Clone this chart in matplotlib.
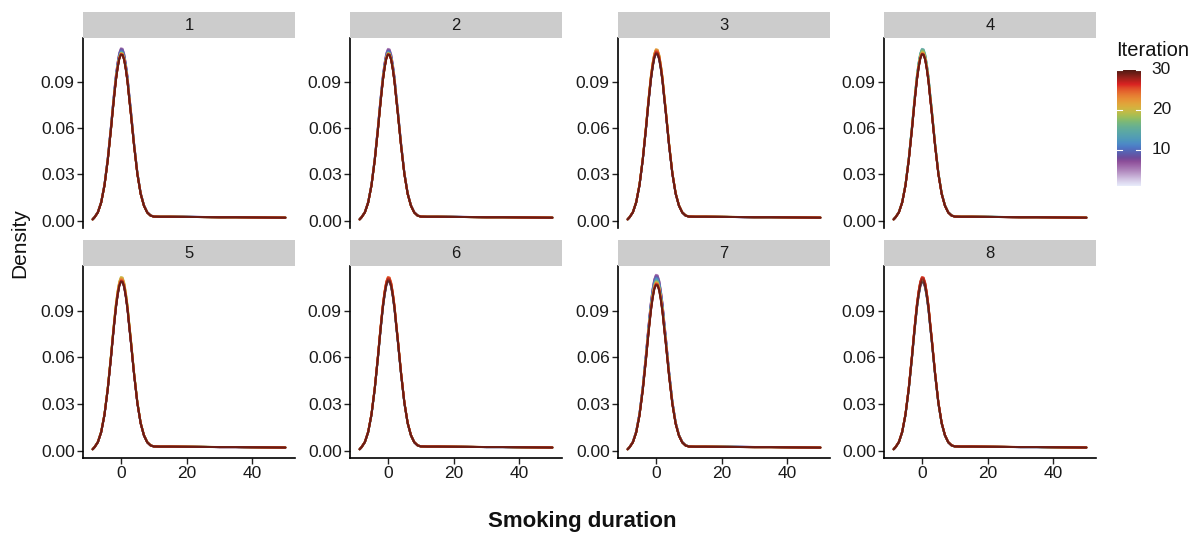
import numpy as np
import matplotlib
matplotlib.use("Agg")
import matplotlib.pyplot as plt
from matplotlib.colors import LinearSegmentedColormap

plt.rcParams["font.family"] = ["Liberation Sans", "DejaVu Sans"]

# density curve shape (x = smoking duration, y = density)
dens_x = [-8.6, -8, -7, -6, -5, -4, -3, -2.5, -2, -1.5, -1, -0.5, 0, 0.5, 1,
          1.5, 2, 2.5, 3, 4, 5, 6, 7, 8, 9, 10, 12, 15, 20, 25, 30, 35, 40,
          45, 50]
dens_y = [0.0008, 0.0022, 0.0054, 0.0118, 0.0229, 0.0395, 0.0603, 0.0717,
          0.0824, 0.0923, 0.1001, 0.1060, 0.1088, 0.1085, 0.1052, 0.0989,
          0.0910, 0.0804, 0.0704, 0.0490, 0.0305, 0.0175, 0.0097, 0.0053,
          0.0033, 0.0026, 0.0025, 0.0025, 0.0024, 0.0023, 0.0022, 0.0022,
          0.0021, 0.0020, 0.0019]
base_peak = 0.1088

panels = [1, 2, 3, 4, 5, 6, 7, 8]
iterations = list(range(1, 31))

# peak offset of each iteration's curve (units of 1e-4), per panel
peak_offset = {
    1: [10, 14, 18, 22, 26, 30, 34, 30, 24, 18, 14, 10, 8, 6, 6, 4, 4, 2, 2, 0, 0, -2, -2, -4, -4, -6, -6, -8, -8, -8],
    2: [12, 16, 20, 24, 28, 30, 26, 22, 18, 14, 10, 8, 6, 4, 4, 2, 2, 0, 0, 0, -2, -2, -4, -4, -4, -6, -6, -6, -8, -8],
    3: [-6, -4, -2, 0, 2, 0, -2, 0, 2, 4, 6, 8, 10, 12, 14, 16, 18, 20, 22, 24, 26, 28, 24, 20, 16, 12, 8, 4, 0, -4],
    4: [-4, -2, 0, 2, 4, 6, 8, 10, 12, 14, 18, 22, 26, 30, 28, 24, 20, 16, 12, 8, 6, 4, 2, 0, -2, -4, -4, -6, -6, -6],
    5: [-6, -4, -2, 0, 2, 4, 6, 8, 8, 10, 10, 12, 12, 14, 16, 18, 20, 24, 28, 30, 26, 22, 18, 14, 10, 6, 4, 2, 0, -2],
    6: [-4, -2, 0, 2, 4, 4, 6, 6, 8, 8, 10, 10, 12, 12, 14, 14, 16, 16, 18, 20, 22, 24, 26, 28, 30, 26, 20, 14, 8, 2],
    7: [30, 34, 38, 40, 42, 44, 40, 36, 30, 26, 22, 18, 14, 10, 6, 4, 2, 0, -2, -4, -6, -8, -10, -12, -14, -16, -18, -20, -22, -24],
    8: [-10, -8, -6, -4, -2, 0, 2, 2, 4, 4, 6, 6, 8, 8, 10, 10, 12, 14, 16, 18, 20, 22, 24, 26, 28, 30, 26, 20, 10, -4],
}

x_ticks = [0, 20, 40]
y_ticks = [0.00, 0.03, 0.06, 0.09]
cbar_ticks = [10, 20, 30]

# Paul Tol smooth rainbow
tol_colors = ["#E8ECFB", "#DDD8EF", "#D1C1E1", "#C3A8D1", "#B58FC2", "#A778B4",
              "#9B62A7", "#8C4E99", "#6F4C9B", "#6059A9", "#5568B8", "#4E79C5",
              "#4D8AC6", "#4E96BC", "#549EB3", "#59A5A9", "#60AB9E", "#69B190",
              "#77B77D", "#8CBC68", "#A6BE54", "#BEBC48", "#D1B541", "#DDAA3C",
              "#E49C39", "#E78C35", "#E67932", "#E4632D", "#DF4828", "#DA2222",
              "#B8221E", "#95211B", "#721E17", "#521A13"]
cmap = LinearSegmentedColormap.from_list("smooth_rainbow", tol_colors)

W, H = 1198, 535
fig = plt.figure(figsize=(W / 100, H / 100), dpi=100)

col_left = [83, 350, 618, 884]
pw = 212
rows = [(12, 38, 228), (240, 266, 458)]  # strip top, plot top, plot bottom

bx = np.array(dens_x)
by = np.array(dens_y)
ymax_all = base_peak + max(max(v) for v in peak_offset.values()) * 1e-4
ylo = 0.0008 - 0.05 * (ymax_all - 0.0008)
yhi = ymax_all + 0.05 * (ymax_all - 0.0008)
xlo = bx.min() - 0.05 * (bx.max() - bx.min())
xhi = bx.max() + 0.05 * (bx.max() - bx.min())

tick_col = "#222222"
for k, p in enumerate(panels):
    r, c = divmod(k, 4)
    st, pt, pb = rows[r]
    left = col_left[c]
    ax = fig.add_axes([left / W, 1 - pb / H, pw / W, (pb - pt) / H])
    sax = fig.add_axes([left / W, 1 - pt / H, pw / W, (pt - st) / H])
    sax.set_facecolor("#cccccc")
    sax.set_xticks([]); sax.set_yticks([])
    for s in sax.spines.values():
        s.set_visible(False)
    sax.text(0.5, 0.5, str(p), ha="center", va="center", fontsize=12, color="#1a1a1a",
             transform=sax.transAxes)

    for i, it in enumerate(iterations):
        scale = (base_peak + peak_offset[p][i] * 1e-4) / base_peak
        ax.plot(bx, by * scale, color=cmap((it - 1) / 29), lw=1.4, alpha=0.6,
                solid_capstyle="round", solid_joinstyle="round")

    ax.set_xlim(xlo, xhi)
    ax.set_ylim(ylo, yhi)
    ax.set_yticks(y_ticks)
    ax.set_yticklabels([f"{v:.2f}" for v in y_ticks])
    ax.spines["top"].set_visible(False)
    ax.spines["right"].set_visible(False)
    ax.spines["left"].set_linewidth(1.2)
    ax.tick_params(axis="both", labelsize=12.5, colors=tick_col, length=4, width=1,
                   labelcolor="#1a1a1a", pad=2)
    if r == 0:
        ax.spines["bottom"].set_visible(False)
        ax.set_xticks([])
    else:
        ax.spines["bottom"].set_linewidth(1.2)
        ax.set_xticks(x_ticks)
        ax.set_xticklabels([str(v) for v in x_ticks])

fig.text(20 / W, 1 - 243 / H, "Density", rotation=90, ha="center", va="center",
         fontsize=15, color="#111111")
fig.text(582 / W, 1 - 522 / H, "Smoking duration", ha="center", va="center",
         fontsize=16, fontweight="bold", color="#111111")

# colour bar legend
cax = fig.add_axes([1117 / W, 1 - 186 / H, 24 / W, (186 - 70) / H])
grad = np.linspace(1, 30, 256).reshape(-1, 1)
cax.imshow(grad, cmap=cmap, aspect="auto", origin="lower", extent=[0, 1, 1, 30],
           vmin=1, vmax=30)
cax.set_xlim(0, 1)
cax.set_ylim(1, 30)
for t in cbar_ticks:
    cax.plot([0, 0.2], [t, t], color="white", lw=0.8)
    cax.plot([0.8, 1], [t, t], color="white", lw=0.8)
    cax.text(1.45, t, str(t), ha="left", va="center", fontsize=12.5, color="#1a1a1a",
             transform=cax.transData, clip_on=False)
cax.set_xticks([]); cax.set_yticks([])
for s in cax.spines.values():
    s.set_visible(False)
fig.text(1116 / W, 1 - 50 / H, "Iteration", ha="left", va="center", fontsize=14.5,
         color="#111111")

fig.savefig("out.png", dpi=100)
